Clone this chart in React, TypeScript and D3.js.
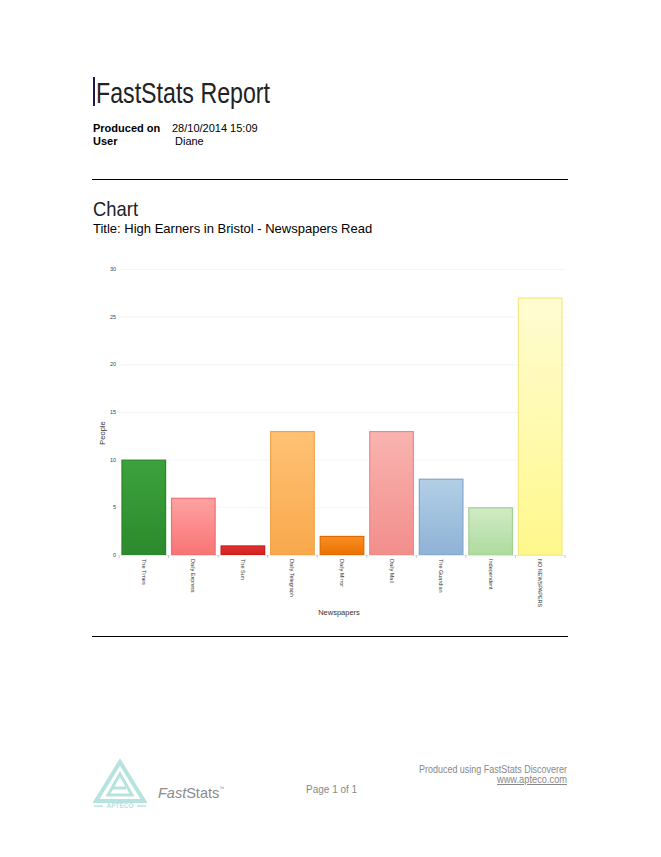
import React, { useEffect, useRef } from 'react';
import * as d3 from 'd3';

// Chart data
const newspapers = ['The Times', 'Daily Express', 'The Sun', 'Daily Telegraph', 'Daily Mirror', 'Daily Mail', 'The Guardian', 'Independent', 'NO NEWSPAPERS'];
const people = [10, 6, 1, 13, 2, 13, 8, 5, 27];
const yTicks = [0, 5, 10, 15, 20, 25, 30];
const barTop = ['#3ca23c', '#ffa2a2', '#e23434', '#ffc275', '#fa8e22', '#f9b4b0', '#b3cfe6', '#d0ebc5', '#fffcd2'];
const barBottom = ['#2c8a2c', '#f87474', '#d01e1e', '#f9a84c', '#ea7000', '#f28e8c', '#8eb2d6', '#aedb9e', '#fff88c'];
const barStroke = ['#2a852a', '#f07070', '#c81c1c', '#f0a448', '#de6a00', '#ea8a88', '#7fa6cc', '#a0d090', '#f2ea80'];

const App = () => {
  const svgRef = useRef<SVGSVGElement>(null);

  useEffect(() => {
    const svg = d3.select(svgRef.current);
    svg.selectAll('*').remove();

    const font = 'Liberation Sans, Arial, sans-serif';

    // Header (narrow face imitated with textLength)
    svg.append('rect').attr('x', 93).attr('y', 77).attr('width', 2).attr('height', 29).attr('fill', '#1a1a4a');
    svg.append('text').attr('x', 96).attr('y', 103).attr('font-family', font).attr('font-size', 29)
      .attr('textLength', 174).attr('lengthAdjust', 'spacingAndGlyphs')
      .attr('fill', '#222').text('FastStats Report');
    svg.append('text').attr('x', 93).attr('y', 132).attr('font-family', font).attr('font-size', 11)
      .attr('font-weight', 'bold').text('Produced on');
    svg.append('text').attr('x', 172).attr('y', 132).attr('font-family', font).attr('font-size', 11).text('28/10/2014 15:09');
    svg.append('text').attr('x', 93).attr('y', 145).attr('font-family', font).attr('font-size', 11)
      .attr('font-weight', 'bold').text('User');
    svg.append('text').attr('x', 175).attr('y', 145).attr('font-family', font).attr('font-size', 11).text('Diane');

    svg.append('line').attr('x1', 92).attr('x2', 568).attr('y1', 179.5).attr('y2', 179.5).attr('stroke', '#000');
    svg.append('text').attr('x', 93).attr('y', 216).attr('font-family', font).attr('font-size', 21)
      .attr('textLength', 45).attr('lengthAdjust', 'spacingAndGlyphs')
      .attr('fill', '#222').text('Chart');
    svg.append('text').attr('x', 93).attr('y', 233).attr('font-family', font).attr('font-size', 13)
      .text('Title: High Earners in Bristol - Newspapers Read');

    // Chart area
    const x = d3.scaleBand().domain(newspapers).range([119, 565]).paddingInner(0.1).paddingOuter(0.05);
    const y = d3.scaleLinear().domain([0, 30]).range([555, 269]);

    const defs = svg.append('defs');
    newspapers.forEach((_, i) => {
      const g = defs.append('linearGradient').attr('id', `bg${i}`).attr('x1', 0).attr('x2', 0).attr('y1', 0).attr('y2', 1);
      g.append('stop').attr('offset', '0%').attr('stop-color', barTop[i]);
      g.append('stop').attr('offset', '100%').attr('stop-color', barBottom[i]);
    });

    // Gridlines
    svg.append('g').selectAll('line').data(yTicks.filter(t => t > 0)).enter().append('line')
      .attr('x1', 119).attr('x2', 565)
      .attr('y1', d => y(d) + 0.5).attr('y2', d => y(d) + 0.5)
      .attr('stroke', '#f4f4f4');

    svg.append('g').selectAll('text').data(yTicks).enter().append('text')
      .attr('x', 116).attr('y', d => y(d) + 2)
      .attr('text-anchor', 'end').attr('font-family', font).attr('font-size', 5.5).attr('fill', '#444')
      .text(d => d);

    // Bars
    svg.append('g').selectAll('rect').data(people).enter().append('rect')
      .attr('x', (d, i) => x(newspapers[i])! + 0.5)
      .attr('y', d => y(d) + 0.5)
      .attr('width', x.bandwidth() - 1)
      .attr('height', d => y(0) - y(d) - 0.5)
      .attr('fill', (d, i) => `url(#bg${i})`)
      .attr('stroke', (d, i) => barStroke[i])
      .attr('stroke-width', 1.2);

    // Baseline and ticks between bars
    svg.append('line').attr('x1', 119).attr('x2', 565).attr('y1', 555.5).attr('y2', 555.5).attr('stroke', '#e8e8e8');
    const step = x.step();
    svg.append('g').selectAll('line').data(d3.range(newspapers.length + 1)).enter().append('line')
      .attr('x1', i => x(newspapers[0])! - step * 0.05 + i * step)
      .attr('x2', i => x(newspapers[0])! - step * 0.05 + i * step)
      .attr('y1', 555).attr('y2', 558).attr('stroke', '#ccc');

    // Category labels rotated to read downward
    svg.append('g').selectAll('text').data(newspapers).enter().append('text')
      .attr('transform', d => `translate(${x(d)! + x.bandwidth() / 2 - 2},559) rotate(90)`)
      .attr('font-family', font).attr('font-size', 5.5).attr('fill', '#333')
      .text(d => d);

    svg.append('text').attr('transform', 'translate(105,433) rotate(-90)').attr('text-anchor', 'middle')
      .attr('font-family', font).attr('font-size', 7.5).attr('fill', '#333').text('People');
    svg.append('text').attr('x', 339).attr('y', 615).attr('text-anchor', 'middle')
      .attr('font-family', font).attr('font-size', 7.5).attr('fill', '#333').text('Newspapers');

    svg.append('line').attr('x1', 92).attr('x2', 568).attr('y1', 636.5).attr('y2', 636.5).attr('stroke', '#000');

    // Footer logo
    const teal = '#b7e3de';
    const logo = svg.append('g');
    logo.append('path').attr('d', 'M120,762 L96,801 L144,801 Z').attr('fill', 'none').attr('stroke', teal).attr('stroke-width', 4);
    logo.append('path').attr('d', 'M120,774 L108,795 L132,795 Z').attr('fill', 'none').attr('stroke', teal).attr('stroke-width', 3);
    logo.append('path').attr('d', 'M112,788 L126,788').attr('stroke', teal).attr('stroke-width', 3);
    logo.append('line').attr('x1', 94).attr('x2', 103).attr('y1', 806).attr('y2', 806).attr('stroke', teal).attr('stroke-width', 1.5);
    logo.append('line').attr('x1', 137).attr('x2', 146).attr('y1', 806).attr('y2', 806).attr('stroke', teal).attr('stroke-width', 1.5);
    logo.append('text').attr('x', 120).attr('y', 808).attr('text-anchor', 'middle').attr('font-family', font)
      .attr('font-size', 6.5).attr('font-weight', 'bold').attr('fill', teal).text('APTECO');

    const fs = svg.append('text').attr('x', 158).attr('y', 798).attr('font-family', font).attr('font-size', 14.5).attr('fill', '#8c8c8c');
    fs.append('tspan').attr('font-style', 'italic').text('Fast');
    fs.append('tspan').text('Stats');
    fs.append('tspan').attr('font-size', 5).attr('dy', -8).text('™');

    svg.append('text').attr('x', 306).attr('y', 793).attr('font-family', font).attr('font-size', 10).attr('fill', '#888').text('Page 1 of 1');
    svg.append('text').attr('x', 567).attr('y', 773).attr('text-anchor', 'end').attr('font-family', font).attr('font-size', 10)
      .attr('textLength', 148).attr('lengthAdjust', 'spacingAndGlyphs')
      .attr('fill', '#888').text('Produced using FastStats Discoverer');
    svg.append('text').attr('x', 567).attr('y', 783).attr('text-anchor', 'end').attr('font-family', font).attr('font-size', 10)
      .attr('textLength', 70).attr('lengthAdjust', 'spacingAndGlyphs')
      .attr('fill', '#888').attr('text-decoration', 'underline').text('www.apteco.com');
  }, []);

  return <svg ref={svgRef} width={661} height={857} style={{ position: 'absolute', left: 0, top: 0, background: '#fff' }} />;
};

export default App;
